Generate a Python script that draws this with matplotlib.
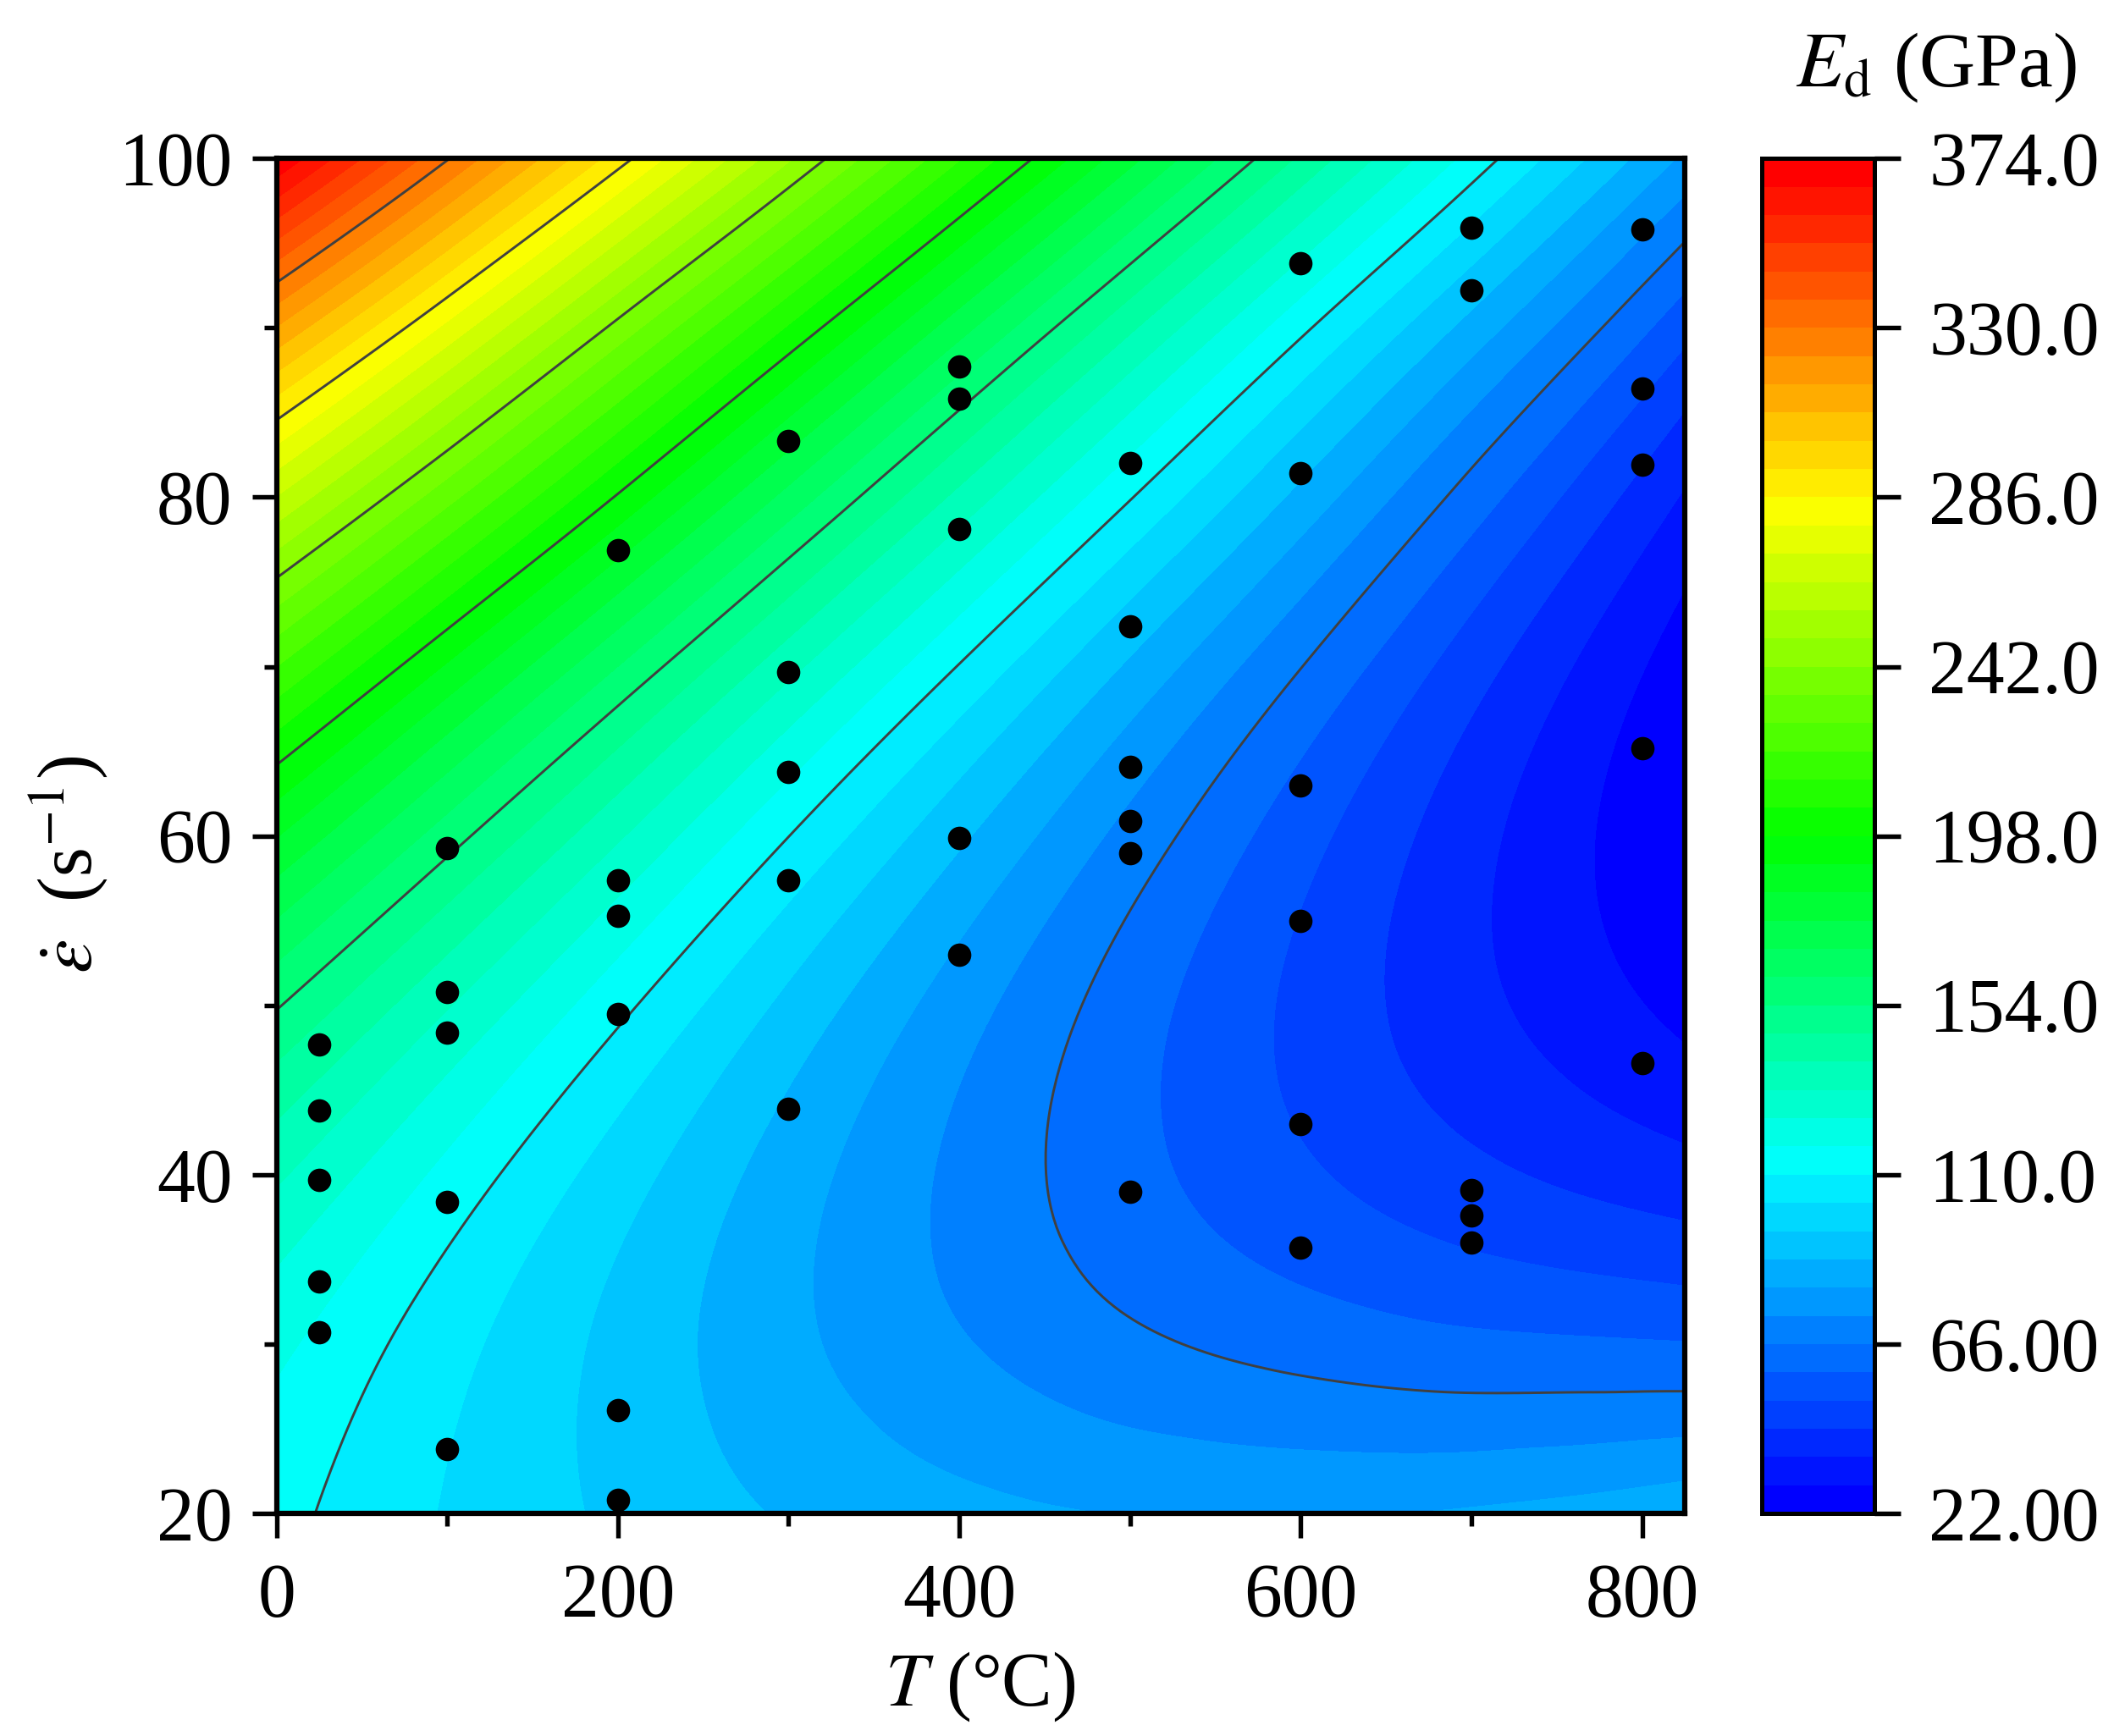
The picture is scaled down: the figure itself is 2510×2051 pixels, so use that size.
import numpy as np
import matplotlib
matplotlib.use("Agg")
import matplotlib.pyplot as plt
import matplotlib.tri as mtri
from matplotlib.colors import LinearSegmentedColormap
from matplotlib.ticker import MultipleLocator

plt.rcParams['font.family'] = ['Liberation Serif', 'DejaVu Serif']
plt.rcParams['mathtext.fontset'] = 'stix'

# ---------------- data ----------------
# surface grid: temperature (°C) columns, strain-rate (1/s) rows
T_grid = [0, 100, 200, 300, 400, 500, 600, 700, 800, 825]
rate_grid = [20, 30, 40, 50, 60, 70, 80, 90, 100]
# E_d (GPa): one list per temperature column, values for rate 20..100
E_T0 = [112.5, 119.2, 133.3, 154.7, 183.7, 220.0, 263.7, 314.9, 373.5]
E_T100 = [102.1, 105.4, 115.2, 132.6, 157.5, 189.8, 229.8, 276.7, 330.6]
E_T200 = [93.9, 93.2, 98.9, 112.2, 133.0, 161.3, 197.2, 239.5, 289.4]
E_T300 = [87.3, 82.5, 84.2, 93.4, 110.1, 134.4, 166.2, 204.5, 250.3]
E_T400 = [82.9, 74.0, 71.6, 76.7, 89.4, 109.6, 137.3, 171.5, 213.2]
E_T500 = [80.5, 67.5, 61.1, 62.1, 70.7, 86.8, 110.5, 140.6, 178.3]
E_T600 = [80.2, 63.2, 52.6, 49.6, 54.2, 66.2, 85.8, 111.8, 145.4]
E_T700 = [81.5, 60.4, 45.8, 38.8, 39.2, 47.2, 62.7, 85.2, 114.7]
E_T800 = [84.9, 59.3, 40.6, 29.5, 25.8, 29.7, 41.2, 60.1, 86.1]
E_T825 = [86.2, 59.0, 39.4, 27.2, 22.6, 25.5, 35.9, 53.8, 79.2]

# measured points
T_pts = [25, 25, 25, 25, 25,
         100, 100, 100, 100, 100,
         200, 200, 200, 200, 200, 200,
         300, 300, 300, 300, 300,
         400, 400, 400, 400, 400,
         500, 500, 500, 500, 500, 500,
         600, 600, 600, 600, 600, 600,
         700, 700, 700, 700, 700,
         800, 800, 800, 800, 800]
rate_pts = [47.7, 43.8, 39.7, 33.7, 30.7,
            59.3, 50.8, 48.4, 38.4, 23.8,
            76.9, 57.4, 55.3, 49.5, 26.1, 20.8,
            83.3, 69.7, 63.8, 57.4, 43.9,
            87.7, 85.8, 78.1, 59.9, 53.0,
            82.0, 72.4, 64.1, 60.9, 59.0, 39.0,
            93.8, 81.4, 63.0, 55.0, 43.0, 35.7,
            95.9, 92.2, 39.1, 37.6, 36.0,
            95.8, 86.4, 81.9, 65.2, 46.6]

cbar_ticks = [22, 66, 110, 154, 198, 242, 286, 330, 374]
cbar_labels = ['22.00', '66.00', '110.0', '154.0', '198.0',
               '242.0', '286.0', '330.0', '374.0']
line_levels = [66, 110, 154, 198, 242, 286, 330]

# ---------------- figure ----------------
W, H = 2510, 2051
dpi = 300
fig = plt.figure(figsize=(W / dpi, H / dpi), dpi=dpi)

ax_l, ax_r = 326.6 / W, 1990 / W
ax_b, ax_t = 1 - 1788 / H, 1 - 187.3 / H
ax = fig.add_axes([ax_l, ax_b, ax_r - ax_l, ax_t - ax_b])
cax = fig.add_axes([2081 / W, ax_b, (2214 - 2081) / W, ax_t - ax_b])

# grid -> triangulation
E_cols = [E_T0, E_T100, E_T200, E_T300, E_T400, E_T500, E_T600, E_T700, E_T800, E_T825]
Z = np.array(E_cols).T  # rows: rate, cols: T
TT, RR = np.meshgrid(np.array(T_grid, float), np.array(rate_grid, float))
nr, nc = Z.shape
tris = []
for i in range(nr - 1):
    for j in range(nc - 1):
        a = i * nc + j
        b = a + 1
        c = a + nc
        d = c + 1
        tris.append([a, b, d])
        tris.append([a, d, c])
tri = mtri.Triangulation(TT.ravel(), RR.ravel(), np.array(tris))
interp = mtri.CubicTriInterpolator(tri, Z.ravel(), kind='min_E')
refiner = mtri.UniformTriRefiner(tri)
tri_ref, z_ref = refiner.refine_field(Z.ravel(), triinterpolator=interp, subdiv=4)
z_ref = np.clip(z_ref, 22.0, 374.0)

levels = np.linspace(22, 374, 49)
cmap = LinearSegmentedColormap.from_list(
    'origin_rainbow',
    [(0, 0, 1), (0, 1, 1), (0, 1, 0), (1, 1, 0), (1, 0, 0)])
band_colors = [cmap(v) for v in np.linspace(0, 1, 48)]

cs = ax.tricontourf(tri_ref, z_ref, levels=levels, colors=band_colors,
                    antialiased=False)
ax.tricontour(tri_ref, z_ref, levels=line_levels, colors='#404040',
              linewidths=0.7)
ax.scatter(T_pts, rate_pts, s=44, color='black', zorder=5, linewidths=0)

FS = 21.5
ax.set_xlim(0, 825)
ax.set_ylim(20, 100)
ax.xaxis.set_major_locator(MultipleLocator(200))
ax.xaxis.set_minor_locator(MultipleLocator(100))
ax.yaxis.set_major_locator(MultipleLocator(20))
ax.yaxis.set_minor_locator(MultipleLocator(10))
ax.tick_params(which='major', direction='out', length=7, width=1.3,
               labelsize=FS)
ax.tick_params(axis='x', which='major', pad=7)
ax.tick_params(axis='y', which='major', pad=5.5)
ax.tick_params(which='minor', direction='out', length=3.6, width=1.3)
for sp in ax.spines.values():
    sp.set_linewidth(1.5)

ax.set_xlabel(r'$T$ (°C)', fontsize=FS, va='center', ha='center')
ax.xaxis.set_label_coords(0.5, -0.128)
ax.set_ylabel(r'$\dot{\varepsilon}$  (s$^{-1}$)', fontsize=FS,
              va='center', ha='center')
ax.yaxis.set_label_coords(-0.148, 0.479)

cb = fig.colorbar(cs, cax=cax, ticks=cbar_ticks)
cb.ax.set_yticklabels(cbar_labels)
cb.ax.minorticks_off()
cb.ax.tick_params(direction='out', length=7.4, width=1.3, labelsize=FS, pad=8)
cb.outline.set_linewidth(1.2)

fig.text(2287 / W, 1 - 80 / H, r'$E_{\mathrm{d}}$ (GPa)', fontsize=FS + 0.5,
         ha='center', va='center')

fig.savefig('out.png', dpi=dpi)
